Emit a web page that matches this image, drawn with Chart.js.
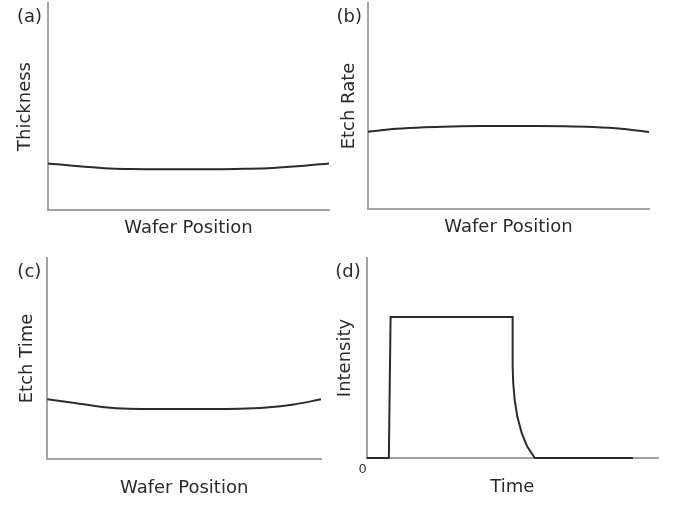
<!DOCTYPE html>
<html>
<head>
<meta charset="utf-8">
<script src="https://cdn.jsdelivr.net/npm/chart.js@4"></script>
<style>
  body { margin: 0; background: #fff; }
  #wrap { position: relative; width: 681px; height: 505px; }
  #wrap canvas { position: absolute; left: 0; top: 0; }
</style>
</head>
<body>
<div id="wrap">
  <canvas id="chartA" width="681" height="505"></canvas>
  <canvas id="chartB" width="681" height="505"></canvas>
  <canvas id="chartC" width="681" height="505"></canvas>
  <canvas id="chartD" width="681" height="505"></canvas>
</div>
<script>
// position across the wafer, edge to edge (arbitrary units 0..100)
const waferPos = [0, 10, 20, 30, 40, 50, 60, 70, 80, 90, 100];
// (a) film thickness, slightly thicker at the edges
const thickness = [22.5, 21.2, 20.2, 19.8, 19.7, 19.7, 19.7, 19.9, 20.3, 21.2, 22.5];
// (b) etch rate, slightly slower at the edges
const etchRate = [37.5, 38.9, 39.7, 40.1, 40.3, 40.3, 40.3, 40.2, 39.8, 39.0, 37.4];
// (c) etch time, longer at the edges
const etchTime = [29.7, 27.9, 25.9, 25.0, 24.9, 24.9, 24.9, 25.0, 25.6, 27.1, 29.7];
// (d) endpoint signal vs time
const oesTime = [0, 7.6, 8.2, 50.1, 50.1, 50.3, 50.8, 51.7, 53.2, 55.1, 57.7, 91.4];
const oesIntensity = [0, 0, 70.5, 70.5, 45.7, 37.5, 29.0, 20.7, 12.5, 5.7, 0, 0];

Chart.defaults.font.family = "'DejaVu Sans', Verdana, sans-serif";
Chart.defaults.color = '#2a2a2a';

const lineColor = '#2b2b2b';
const axisColor = '#a3a3a3';

// draws the (a)/(b)/... tag left of the y axis top
const panelTag = {
    id: 'panelTag',
    afterDraw(chart, args, opts) {
        const ctx = chart.ctx;
        const area = chart.chartArea;
        ctx.save();
        ctx.font = "18px 'DejaVu Sans', Verdana, sans-serif";
        ctx.fillStyle = '#2a2a2a';
        ctx.textAlign = 'right';
        ctx.textBaseline = 'middle';
        ctx.fillText(opts.text, area.left - 6, area.top + 14);
        ctx.restore();
    }
};

function toPoints(xs, ys) {
    return xs.map((x, i) => ({ x: x, y: ys[i] }));
}

function makePanel(id, tag, xTitle, yTitle, points, box) {
    const timeAxis = !!box.zeroTick;
    return new Chart(document.getElementById(id), {
        type: 'line',
        data: {
            datasets: [{
                data: points,
                borderColor: lineColor,
                borderWidth: 2,
                pointRadius: 0,
                tension: 0,
                cubicInterpolationMode: timeAxis ? 'default' : 'monotone',
                clip: false
            }]
        },
        options: {
            responsive: false,
            animation: false,
            layout: { padding: box.layout },
            scales: {
                x: {
                    type: 'linear',
                    min: 0,
                    max: 100,
                    grid: { display: false, drawTicks: false },
                    border: { color: axisColor, width: 2 },
                    ticks: {
                        display: timeAxis,
                        stepSize: 50,
                        align: 'end',
                        padding: 4,
                        font: { size: 13 },
                        color: '#333',
                        callback: v => (v === 0 ? '0' : '')
                    },
                    title: {
                        display: true,
                        text: xTitle,
                        font: { size: 18 },
                        padding: box.xPad
                    }
                },
                y: {
                    type: 'linear',
                    min: 0,
                    max: 100,
                    grid: { display: false, drawTicks: false },
                    border: { color: axisColor, width: 2 },
                    ticks: { display: false },
                    title: {
                        display: true,
                        text: yTitle,
                        font: { size: 18 },
                        padding: box.yPad
                    }
                }
            },
            plugins: {
                legend: { display: false },
                tooltip: { enabled: false },
                panelTag: { text: tag }
            }
        },
        plugins: [panelTag]
    });
}

makePanel('chartA', '(a)', 'Wafer Position', 'Thickness', toPoints(waferPos, thickness), {
    layout: { left: 10.7, top: 3, right: 352, bottom: 261.7 },
    yPad: { top: 4, bottom: 11.7 },
    xPad: { top: 7.7, bottom: 4 }
});
makePanel('chartB', '(b)', 'Wafer Position', 'Etch Rate', toPoints(waferPos, etchRate), {
    layout: { left: 335, top: 3, right: 32, bottom: 263 },
    yPad: { top: 4, bottom: 7.4 },
    xPad: { top: 7.4, bottom: 4 }
});
makePanel('chartC', '(c)', 'Wafer Position', 'Etch Time', toPoints(waferPos, etchTime), {
    layout: { left: 12.2, top: 258, right: 360, bottom: 1.4 },
    yPad: { top: 4, bottom: 9.5 },
    xPad: { top: 19, bottom: 4 }
});
makePanel('chartD', '(d)', 'Time', 'Intensity', toPoints(oesTime, oesIntensity), {
    layout: { left: 330.2, top: 258, right: 23, bottom: 2.7 },
    yPad: { top: 4, bottom: 10.9 },
    xPad: { top: -4.9, bottom: 4 },
    zeroTick: true
});
</script>
</body>
</html>
